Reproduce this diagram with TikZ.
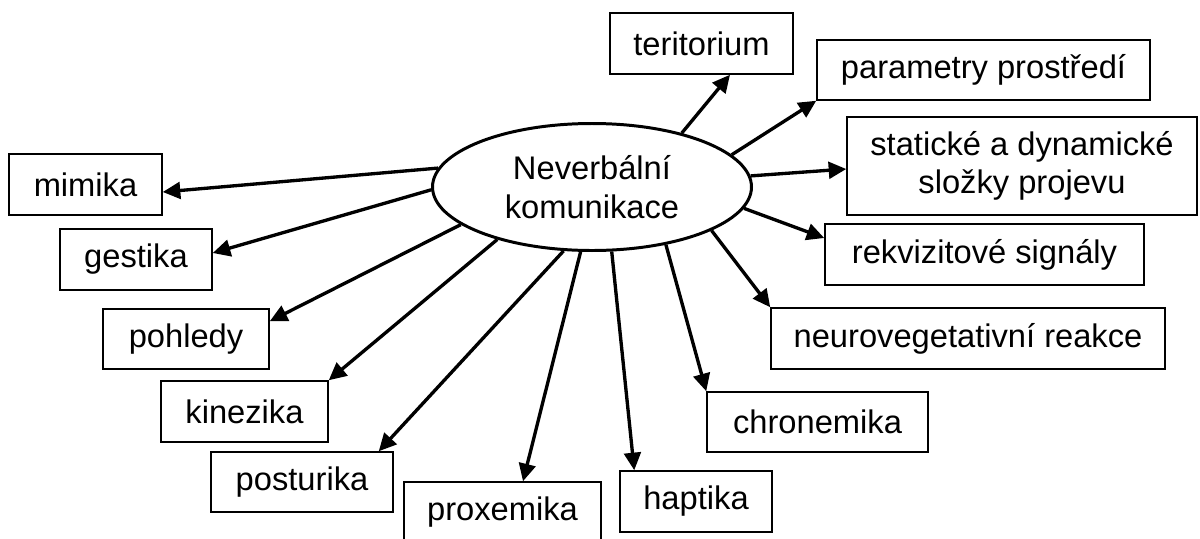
\documentclass[tikz,border=0pt]{standalone}
\usepackage{fontspec}
\setmainfont{Liberation Sans}
\usetikzlibrary{arrows.meta,calc,shapes.geometric}
\begin{document}
\begin{tikzpicture}[x=0.02cm,y=-0.02cm,
  txt/.style={align=center, font=\fontsize{18.6}{21.8}\selectfont},
  box/.style={txt, draw, line width=0.85pt, inner sep=0pt},
  sz/.style 2 args={minimum width=#1*0.02cm, minimum height=#2*0.02cm},
  link/.style={line width=1.9pt, -{Triangle[length=10pt,width=9.5pt]}},
  ]
\useasboundingbox (0,0) rectangle (1200,538);
\clip (0,0) rectangle (1200,538);
\node[txt, draw, ellipse, line width=1.7pt, inner sep=0pt, sz={319}{127}] (ell) at (592,187) {Neverbální\\komunikace};
\node[box, sz={183}{61}] (teri) at (701.5,43.5) {teritorium};
\node[box, sz={333}{60}] (param) at (983.5,70) {parametry prostředí};
\node[box, sz={350}{98}] (stat) at (1022,166) {statické a dynamické\\složky projevu};
\node[box, sz={319}{61}] (rek) at (984.5,254.5) {rekvizitové signály};
\node[box, sz={394}{61}] (neuro) at (968,338.5) {neurovegetativní reakce};
\node[box, sz={221}{60}] (chron) at (817.5,422) {chronemika};
\node[box, sz={152}{61}] (hap) at (696,501.5) {haptika};
\node[box, sz={197}{61}] (prox) at (502.5,512.5) {proxemika};
\node[box, sz={182}{60}] (post) at (302,482) {posturika};
\node[box, sz={167}{61}] (kin) at (244.5,411.5) {kinezika};
\node[box, sz={166}{60}] (poh) at (186,339) {pohledy};
\node[box, sz={152}{61}] (ges) at (136,259.5) {gestika};
\node[box, sz={153}{61}] (mim) at (85.5,184.5) {mimika};

\draw[link] (ell.31.4) -- ($(teri.south)+(28.5,0)$);
\draw[link] (ell.13.6) -- (param.south west);
\draw[link] (ell.4.3) -- ($(stat.west)+(0,3)$);
\draw[link] (ell.-8.5) -- ($(rek.west)+(0,-16.5)$);
\draw[link] (ell.-20.8) -- (neuro.north west);
\draw[link] (ell.-38.3) -- (chron.north west);
\draw[link] (ell.-73.1) -- ($(hap.north west)+(15,0)$);
\draw[link] (ell.-100.3) -- ($(prox.north)+(20.5,0)$);
\draw[link] (ell.-114) -- ($(post.north east)+(-15,0)$);
\draw[link] (ell.209.1) -- (kin.north east);
\draw[link] (ell.196.5) -- ($(poh.north east)+(0,13)$);
\draw[link] (ell.181.8) -- ($(ges.east)+(0,-6.5)$);
\draw[link] (ell.173) -- ($(mim.east)+(0,7.5)$);
\end{tikzpicture}
\end{document}
